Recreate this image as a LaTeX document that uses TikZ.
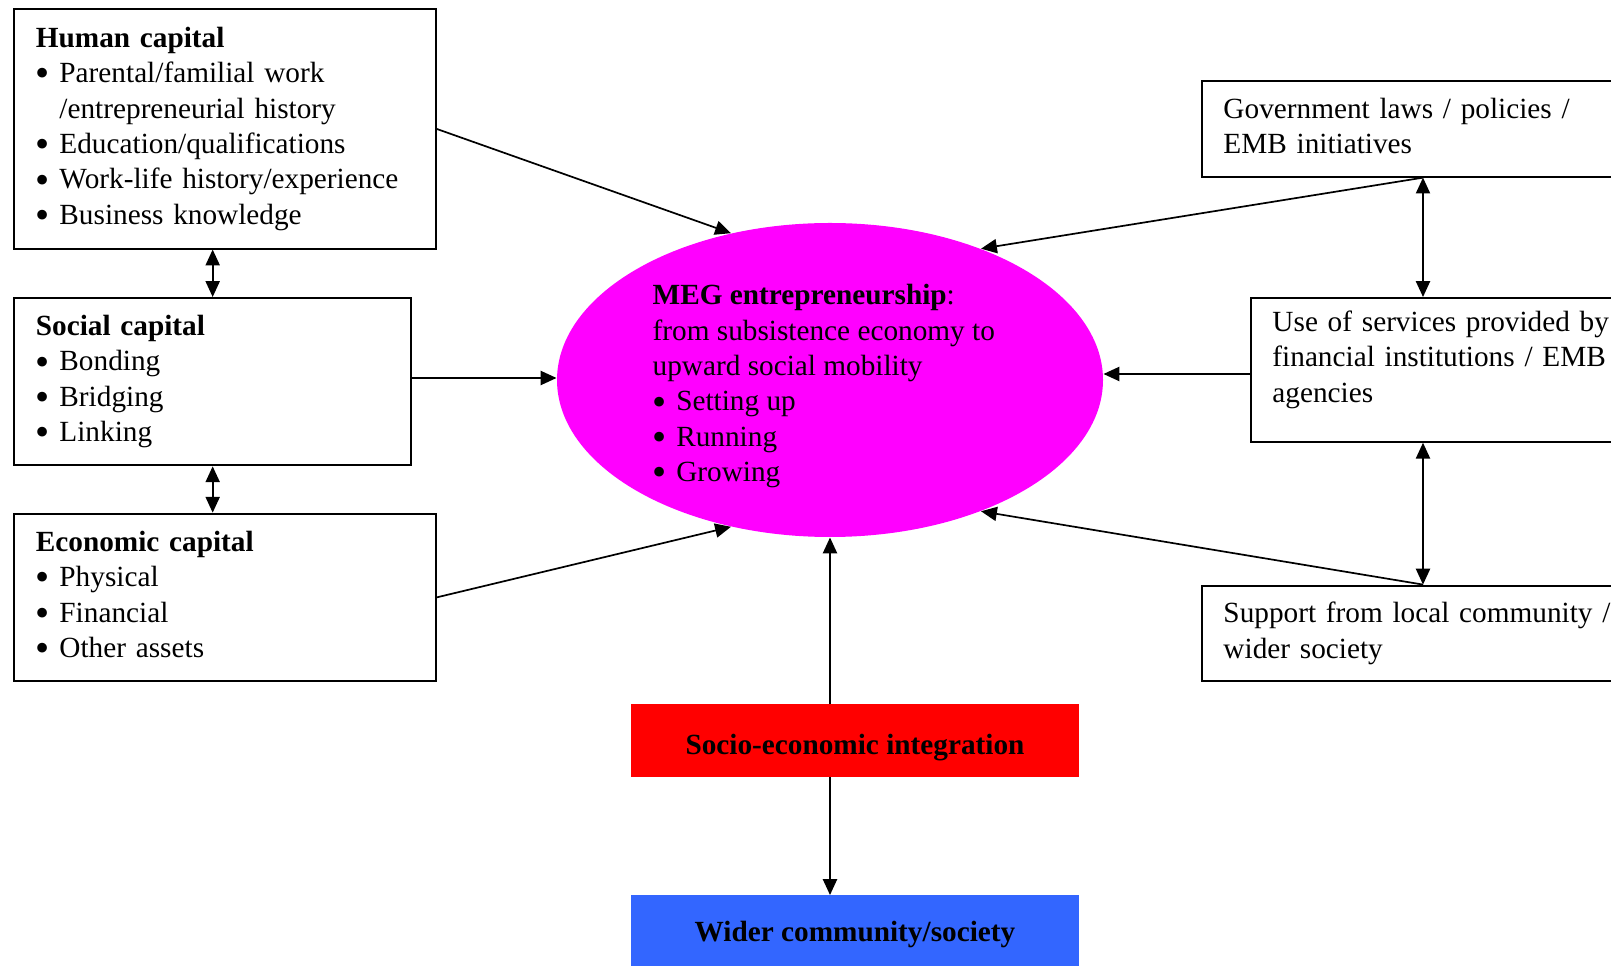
\documentclass[tikz,border=0pt]{standalone}
\usepackage{graphicx}
\usepackage{fontspec}
\setmainfont{Liberation Serif}[WordSpace={1,0,0}]
\usetikzlibrary{arrows.meta}
\usetikzlibrary{shapes.geometric}
\newlength{\unitpx}
\setlength{\unitpx}{0.41pt}
\newcommand{\bul}{\makebox[23.6\unitpx][l]{\smash{\raisebox{-1.7pt}{\scalebox{1.38}{\textbullet}}}}}
\definecolor{megpink}{HTML}{FF00FF}
\definecolor{integred}{HTML}{FF0000}
\definecolor{widerblue}{HTML}{3366FF}
\tikzset{capbox/.style = {draw, line width=0.8pt, anchor=north west, align=left,
                          inner xsep=21.5\unitpx, inner ysep=0pt,
                          font=\fontsize{12}{14.5}\selectfont}}
\tikzset{flatbox/.style = {minimum width=448\unitpx, minimum height=73\unitpx, inner sep=0pt,
                           text height=11.8pt, text depth=0pt,
                           font=\fontsize{12}{14.5}\selectfont\bfseries}}
\tikzset{arr/.style = {-{Triangle[length=6.5pt, width=5.8pt]}, line width=0.7pt}}
\tikzset{dbl/.style = {{Triangle[length=6.5pt, width=5.8pt]}-{Triangle[length=6.5pt, width=5.8pt]},
                       line width=0.7pt}}

\begin{document}
\begin{tikzpicture}[x=0.41pt, y=-0.41pt]
    \useasboundingbox (0,0) rectangle (1611,966);
    \clip (0,0) rectangle (1611,966);
    % left column: the three capitals
    \node [capbox, text width=378.2\unitpx, minimum height=239.4\unitpx] (hum) at (13.4,8.2)
      {\textbf{Human capital}\\ \bul Parental/familial work\\ \hspace*{23.6\unitpx}/entrepreneurial history\\
       \bul Education/qualifications\\ \bul Work-life history/experience\\ \bul Business knowledge};
    \node [capbox, text width=353.6\unitpx, minimum height=167.4\unitpx] (soc) at (13.4,297)
      {\textbf{Social capital}\\ \bul Bonding\\ \bul Bridging\\ \bul Linking};
    \node [capbox, text width=378.2\unitpx, minimum height=167.5\unitpx] (eco) at (13.4,512.7)
      {\textbf{Economic capital}\\ \bul Physical\\ \bul Financial\\ \bul Other assets\rule[-2.5pt]{0pt}{2.5pt}};
    % right column
    \node [capbox, text width=400\unitpx, minimum height=95.7\unitpx] (gov) at (1201,80)
      {Government laws / policies /\\ EMB initiatives\rule[-2.5pt]{0pt}{2.5pt}};
    \node [capbox, text width=360\unitpx, minimum height=143.8\unitpx] (use) at (1250,297)
      {Use of services provided by\\ financial institutions / EMB\\ agencies\rule[-11pt]{0pt}{11pt}};
    \node [capbox, text width=400\unitpx, minimum height=95.4\unitpx] (sup) at (1201,584.6)
      {Support from local community /\\ wider society};
    % centre
    \node [ellipse, fill=megpink, minimum width=546\unitpx, minimum height=314\unitpx,
           inner sep=0pt] (meg) at (830,380) {};
    \node [align=left, inner sep=0pt, font=\fontsize{12}{14.5}\selectfont] (megtxt) at (823.8,386.2)
      {\textbf{MEG entrepreneurship}:\\ from subsistence economy to\\ upward social mobility\\
       \bul Setting up\\ \bul Running\\ \bul Growing};
    \node [flatbox, fill=integred] (integ) at (855,740.5) {Socio-economic integration};
    \node [flatbox, fill=widerblue, text height=8pt] (wider) at (855,932) {Wider community/society};
    \coordinate (rcol) at (1423,0);
    \coordinate (socy) at (0,378);
    \coordinate (usey) at (0,374);
    % connectors
    \draw [arr] (hum.east) -- (meg.124);
    \draw [arr] (soc.east |- socy) -- (meg.west |- socy);
    \draw [arr] (eco.east) -- (meg.236);
    \draw [arr] (gov.south -| rcol) -- (meg.41);
    \draw [arr] (use.west |- usey) -- (meg.east |- usey);
    \draw [arr] (sup.north -| rcol) -- (meg.319);
    \draw [dbl] (soc.north) -- (soc.north |- hum.south);
    \draw [dbl] (soc.south) -- (soc.south |- eco.north);
    \draw [dbl] (gov.south -| rcol) -- (use.north -| rcol);
    \draw [dbl] (use.south -| rcol) -- (sup.north -| rcol);
    \draw [arr] (integ.north -| meg.south) -- (meg.south);
    \draw [arr] (integ.south -| meg.south) -- (wider.north -| meg.south);
\end{tikzpicture}
\end{document}
